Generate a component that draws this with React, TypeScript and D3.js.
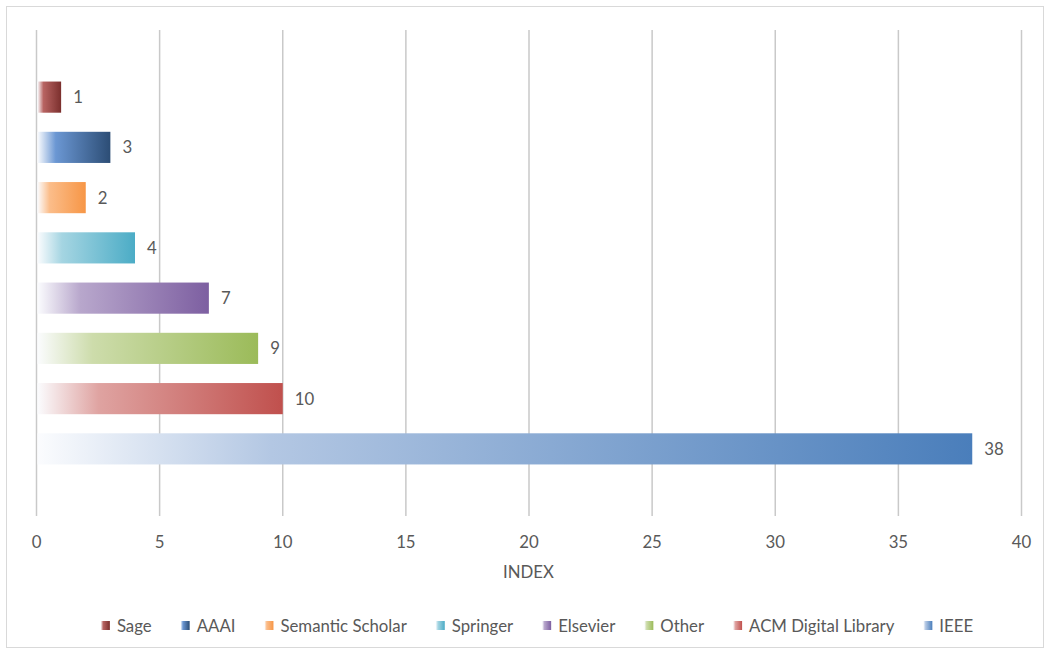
import React, { useEffect, useRef } from "react";
import * as d3 from "d3";

const categories = ["Sage", "AAAI", "Semantic Scholar", "Springer", "Elsevier", "Other", "ACM Digital Library", "IEEE"];
const values = [1, 3, 2, 4, 7, 9, 10, 38];
const endColors = ["#7b2f2d", "#2c4d75", "#f79646", "#4bacc6", "#7d5fa1", "#9bbb59", "#c0504d", "#4a7ebb"];
const midColors = ["#b86462", "#6b97d3", "#fbbd8a", "#a5d5e2", "#b8a7cc", "#cddcab", "#dfa3a1", "#b3c7e3"];
const xTicks = [0, 5, 10, 15, 20, 25, 30, 35, 40];
const axisTitle = "INDEX";

const W = 1047;
const H = 654;
const FONT = "Lato, 'Open Sans', sans-serif";
const TEXT = "#595959";
const FS = 16.8;

export default function App() {
  const ref = useRef<SVGSVGElement | null>(null);

  useEffect(() => {
    const svg = d3.select(ref.current);
    svg.selectAll("*").remove();

    const x = d3.scaleLinear().domain([0, 40]).range([36.5, 1021.5]);
    const y = d3.scaleBand<string>().domain(categories).range([72, 474]).paddingInner(0.38).paddingOuter(0.19);

    const defs = svg.append("defs");
    categories.forEach((c, i) => {
      const g = defs.append("linearGradient").attr("id", `g${i}`).attr("x1", 0).attr("x2", 1).attr("y1", 0).attr("y2", 0);
      g.append("stop").attr("offset", 0).attr("stop-color", "#fbfcfe");
      g.append("stop").attr("offset", 0.25).attr("stop-color", midColors[i]);
      g.append("stop").attr("offset", 1).attr("stop-color", endColors[i]);
    });

    // border
    svg.append("rect").attr("x", 6.5).attr("y", 6.5).attr("width", 1037).attr("height", 641)
      .attr("fill", "white").attr("stroke", "#d9d9d9").attr("stroke-width", 1);

    // gridlines
    svg.append("g").selectAll("line").data(xTicks).join("line")
      .attr("x1", (d) => x(d)).attr("x2", (d) => x(d))
      .attr("y1", 30).attr("y2", 516)
      .attr("stroke", "#c9c9c9").attr("stroke-width", 1.5);

    // tick labels
    svg.append("g").selectAll("text").data(xTicks).join("text")
      .attr("x", (d) => x(d)).attr("y", 548)
      .attr("text-anchor", "middle")
      .attr("font-family", FONT).attr("font-size", FS).attr("fill", TEXT)
      .text((d) => String(d));

    svg.append("text").attr("x", 528.5).attr("y", 578)
      .attr("text-anchor", "middle")
      .attr("font-family", FONT).attr("font-size", FS).attr("fill", TEXT)
      .text(axisTitle);

    // bars
    svg.append("g").selectAll("rect").data(values).join("rect")
      .attr("x", x(0) + 1)
      .attr("y", (_d, i) => y(categories[i]) as number)
      .attr("width", (d) => x(d) - x(0) - 1)
      .attr("height", y.bandwidth())
      .attr("fill", (_d, i) => `url(#g${i})`);

    // data labels
    svg.append("g").selectAll("text").data(values).join("text")
      .attr("x", (d) => x(d) + 12)
      .attr("y", (_d, i) => (y(categories[i]) as number) + y.bandwidth() / 2 + 6)
      .attr("font-family", FONT).attr("font-size", FS).attr("fill", TEXT)
      .text((d) => String(d));

    // legend
    const leg = svg.append("g");
    const items = categories.map((c, i) => {
      const gi = leg.append("g");
      gi.append("rect").attr("width", 9).attr("height", 9).attr("y", -11).attr("fill", `url(#g${i})`);
      const t = gi.append("text").attr("x", 16).attr("y", 0)
        .attr("font-family", FONT).attr("font-size", FS).attr("fill", TEXT).text(c);
      const w = (t.node() as SVGTextElement).getComputedTextLength();
      return { gi, w: 16 + w };
    });
    const gap = 29;
    const total = items.reduce((s, it) => s + it.w, 0) + gap * (items.length - 1);
    let cx = 537 - total / 2;
    items.forEach((it) => {
      it.gi.attr("transform", `translate(${cx},632)`);
      cx += it.w + gap;
    });
  }, []);

  return (
    <svg ref={ref} width={W} height={H} style={{ position: "absolute", left: 0, top: 0, background: "white" }} />
  );
}
